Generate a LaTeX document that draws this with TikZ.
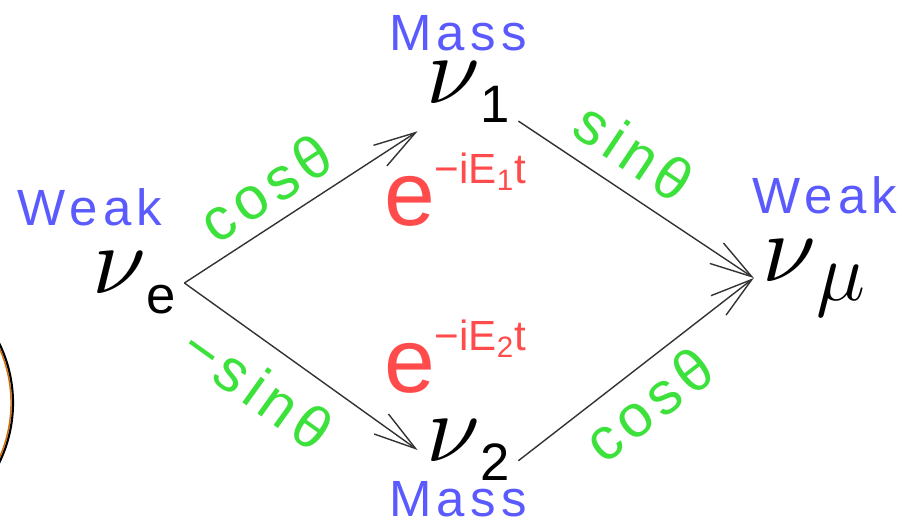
\documentclass[tikz,border=0pt]{standalone}
\usepackage{amsmath}
\usepackage{graphicx}
\usepackage{fontspec}
\setmainfont{Liberation Sans}
\newfontfamily\widefont{Liberation Sans}[LetterSpace=10]
\usepackage{tikz}
\usetikzlibrary{arrows.meta, positioning}
\definecolor{basisblue}{RGB}{90,90,255}
\definecolor{phasered}{RGB}{255,75,75}
\definecolor{ampgreen}{RGB}{60,225,60}
\newcommand{\neutrino}[1]{\scalebox{5.5}{$\nu$}\raisebox{-11pt}{\fontsize{30}{32}\selectfont #1}}

\begin{document}
\begin{tikzpicture}[x=0.02cm, y=-0.02cm,
    basis/.style={text=basisblue, inner sep=0pt, font=\widefont\fontsize{29}{31}\selectfont},
    state/.style={inner sep=0pt, outer sep=5pt},
    phase/.style={text=phasered, font=\fontsize{52}{54}\selectfont, inner sep=0pt},
    amp/.style={text=ampgreen, font=\widefont\fontsize{34}{36}\selectfont, sloped},
    flow/.style={-{Straight Barb[length=24pt,width=14pt]}, line width=0.8pt, black!80}]
  \useasboundingbox (0,0) rectangle (909,525);
  \begin{scope}
    \clip (0,0) rectangle (909,525);
    \draw[orange!85!black, line width=0.8pt] (-123,403) circle[radius=134];
    \draw[line width=1.2pt] (-123,403) circle[radius=136];
  \end{scope}
  \node[state] (nue) at (134,283) {\neutrino{e}};
  \node[basis] (weakl) at (90,207) {Weak};
  \node[state] (nu1) at (468,92) {\neutrino{1}};
  \node[basis] (masst) at (458,33) {Mass};
  \node[state] (nu2) at (468,450) {\neutrino{2}};
  \node[basis] (massb) at (458,499) {Mass};
  \node[state] (numu) at (814,278) {\neutrino{\scalebox{1.9}{$\mu$}}};
  \node[basis] (weakr) at (825,195) {Weak};
  \node[phase] (ph1) at (455,190) {e\raisebox{24pt}{\fontsize{24}{26}\selectfont −iE\textsubscript{1}t}};
  \node[phase] (ph2) at (455,357) {e\raisebox{24pt}{\fontsize{24}{26}\selectfont −iE\textsubscript{2}t}};
  \draw[flow] (nue.east) -- (nu1.south west) node[amp, pos=0.43, above=4pt] {cosθ};
  \draw[flow] (nue.east) -- (nu2.west) node[amp, pos=0.42, below=8pt] {−sinθ};
  \draw[flow] (nu1.-30) -- (numu.west) node[amp, pos=0.4, above=6pt] {sinθ};
  \draw[flow] (nu2.-12) -- (numu.west) node[amp, pos=0.46, below=4pt] {cosθ};
\end{tikzpicture}
\end{document}
